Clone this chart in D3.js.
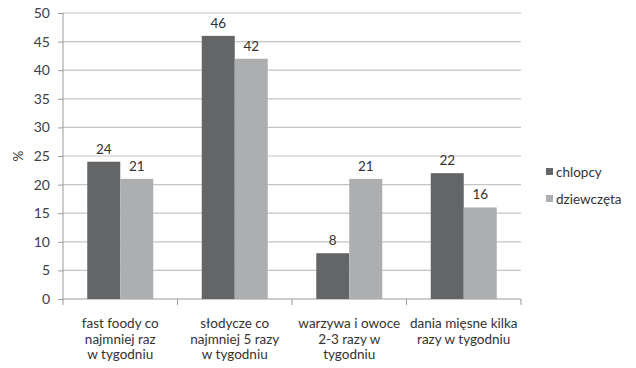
<!DOCTYPE html>
<html>
<head>
<meta charset="utf-8">
<script src="https://cdn.jsdelivr.net/npm/d3@7"></script>
<style>
  html, body { margin: 0; padding: 0; background: #fff; }
  svg { display: block; font-family: Lato, "Open Sans", sans-serif; }
</style>
</head>
<body>
<svg id="chart" width="636" height="368"></svg>
<script>
// Eating habits of boys and girls (% of respondents)
const categories = [
  ["fast foody co", "najmniej raz", "w tygodniu"],
  ["słodycze co", "najmniej 5 razy", "w tygodniu"],
  ["warzywa i owoce", "2-3 razy w", "tygodniu"],
  ["dania mięsne kilka", "razy w tygodniu"]
];
const seriesNames = ["chlopcy", "dziewczęta"];
const chlopcy = [24, 46, 8, 22];
const dziewczeta = [21, 42, 21, 16];
const yTicks = [0, 5, 10, 15, 20, 25, 30, 35, 40, 45, 50];
const colors = ["#646567", "#adaeb0"];

const svg = d3.select("#chart");
const plot = { left: 63, right: 521, top: 13, bottom: 299 };

const x = d3.scaleBand()
  .domain(d3.range(categories.length))
  .range([plot.left, plot.right])
  .paddingInner(0)
  .paddingOuter(0);

const inner = d3.scaleBand()
  .domain(d3.range(seriesNames.length))
  .range([0, x.bandwidth()])
  .paddingOuter(0.735)
  .paddingInner(0);

const y = d3.scaleLinear().domain([0, 50]).range([plot.bottom, plot.top]);

// horizontal gridlines
svg.append("g")
  .selectAll("line")
  .data(yTicks.filter(d => d > 0))
  .join("line")
  .attr("x1", plot.left).attr("x2", plot.right)
  .attr("y1", d => y(d)).attr("y2", d => y(d))
  .attr("stroke", "#c4c4c4").attr("stroke-width", 1.2);

// y axis
const yAxis = svg.append("g")
  .attr("transform", `translate(${plot.left},0)`)
  .call(d3.axisLeft(y).tickValues(yTicks).tickSize(5).tickPadding(8));
yAxis.select(".domain").attr("stroke", "#9a9a9a").attr("d", `M0,${plot.top}V${plot.bottom}`);
yAxis.selectAll(".tick line").attr("stroke", "#9a9a9a");
yAxis.selectAll(".tick text").attr("font-size", 14).attr("fill", "#404040").attr("font-family", "Lato, sans-serif");

// x axis with ticks at category boundaries
const xAxis = svg.append("g")
  .attr("transform", `translate(0,${plot.bottom})`);
xAxis.append("line")
  .attr("x1", plot.left).attr("x2", plot.right)
  .attr("stroke", "#9a9a9a");
xAxis.selectAll("line.tk")
  .data(d3.range(categories.length + 1))
  .join("line")
  .attr("class", "tk")
  .attr("x1", i => i < categories.length ? x(i) : plot.right)
  .attr("x2", i => i < categories.length ? x(i) : plot.right)
  .attr("y1", 0).attr("y2", 6)
  .attr("stroke", "#9a9a9a");

// category labels
const catLabels = svg.append("g").selectAll("text")
  .data(categories)
  .join("text")
  .attr("text-anchor", "middle")
  .attr("font-size", 13.5)
  .attr("fill", "#333")
  .attr("x", (d, i) => x(i) + x.bandwidth() / 2)
  .attr("y", 328);
catLabels.selectAll("tspan")
  .data(d => d)
  .join("tspan")
  .attr("x", function () { return d3.select(this.parentNode).attr("x"); })
  .attr("dy", (d, j) => j === 0 ? 0 : 15.5)
  .text(d => d);

// bars
const series = [chlopcy, dziewczeta];
series.forEach((vals, s) => {
  const g = svg.append("g");
  g.selectAll("rect")
    .data(vals)
    .join("rect")
    .attr("x", (d, i) => x(i) + inner(s))
    .attr("width", inner.bandwidth())
    .attr("y", d => y(d))
    .attr("height", d => y(0) - y(d))
    .attr("fill", colors[s]);
  g.selectAll("text")
    .data(vals)
    .join("text")
    .attr("text-anchor", "middle")
    .attr("font-size", 13.5)
    .attr("fill", "#333")
    .attr("x", (d, i) => x(i) + inner(s) + inner.bandwidth() / 2)
    .attr("y", d => y(d) - 8)
    .text(d => d);
});

// y axis title
svg.append("text")
  .attr("transform", "translate(23,156) rotate(-90)")
  .attr("text-anchor", "middle")
  .attr("font-size", 13.5)
  .attr("fill", "#333")
  .text("%");

// legend
const legend = svg.append("g").selectAll("g")
  .data(seriesNames)
  .join("g")
  .attr("transform", (d, i) => `translate(546,${172 + i * 27})`);
legend.append("rect")
  .attr("x", 0).attr("y", -4).attr("width", 7).attr("height", 7)
  .attr("fill", (d, i) => colors[i]);
legend.append("text")
  .attr("x", 10).attr("y", 0).attr("dy", "0.35em")
  .attr("font-size", 13.5).attr("fill", "#333")
  .text(d => d);
</script>
</body>
</html>
